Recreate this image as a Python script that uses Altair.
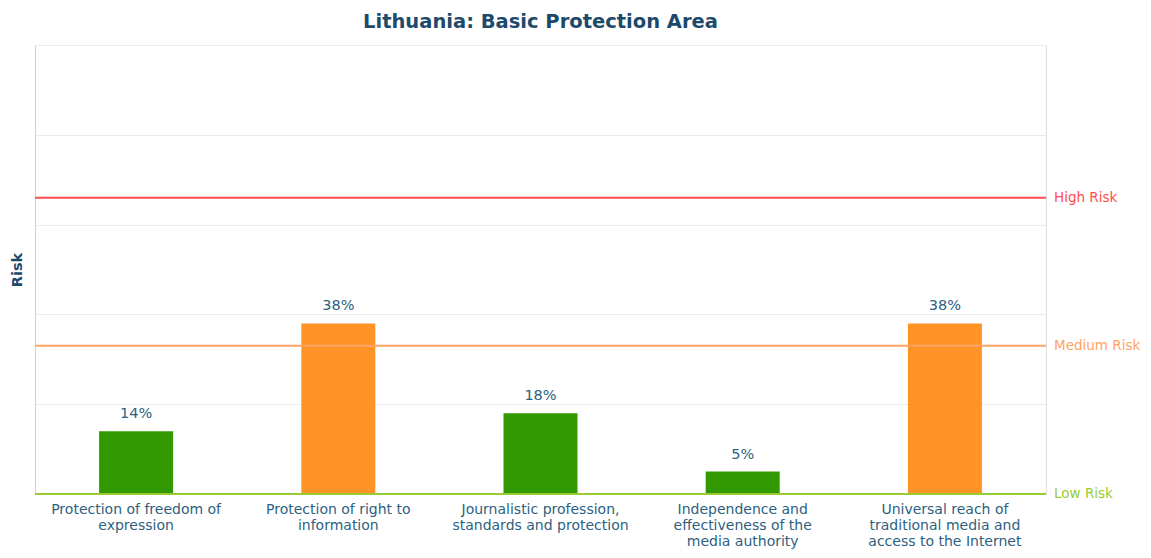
import altair as alt
import pandas as pd

categories = [
    "Protection of freedom of|expression",
    "Protection of right to|information",
    "Journalistic profession,|standards and protection",
    "Independence and|effectiveness of the|media authority",
    "Universal reach of|traditional media and|access to the Internet",
]
values = [14, 38, 18, 5, 38]
bar_colors = ["#339900", "#ff9326", "#339900", "#339900", "#ff9326"]

risk_names = ["High Risk", "Medium Risk", "Low Risk"]
risk_levels = [66, 33, 0]
risk_colors = ["#ff4d4d", "#ffa366", "#99cc33"]

bars_df = pd.DataFrame({
    "cat": categories,
    "value": values,
    "color": bar_colors,
    "label": [f"{v}%" for v in values],
})
risk_df = pd.DataFrame({"name": risk_names, "level": risk_levels, "color": risk_colors})

W, H = 1011, 449
label_color = "#2e5f80"
FS = 14.5

x_enc = alt.X(
    "cat:N", sort=None, title=None,
    scale=alt.Scale(paddingInner=0.63, paddingOuter=0.315),
    axis=alt.Axis(labelExpr="split(datum.label, '|')", labelAngle=0, labelFontSize=14,
                  labelColor=label_color, labelFont="DejaVu Sans", labelPadding=8,
                  labelLineHeight=16, ticks=False, domain=False, labelLimit=300),
)
y_enc = alt.Y(
    "value:Q", title="Risk",
    scale=alt.Scale(domain=[0, 100], nice=False),
    axis=alt.Axis(values=[0, 20, 40, 60, 80, 100], labels=False, ticks=False,
                  domainColor="#c5d5e2", gridColor="#ebebeb", titleFontSize=14.5,
                  titleFont="DejaVu Sans", titleFontWeight="bold", titleColor="#1d4a6b",
                  titlePadding=11),
)

bars = alt.Chart(bars_df).mark_bar(size=74).encode(
    x=x_enc, y=y_enc, color=alt.Color("color:N", scale=None)
)
bar_text = alt.Chart(bars_df).mark_text(
    baseline="bottom", dy=-10, fontSize=FS, font="DejaVu Sans", color=label_color
).encode(x=alt.X("cat:N", sort=None), y="value:Q", text="label:N")

rules = alt.Chart(risk_df).mark_rule(strokeWidth=2).encode(
    y=alt.Y("level:Q"), color=alt.Color("color:N", scale=None)
)
risk_text = alt.Chart(risk_df).mark_text(
    align="left", baseline="middle", fontSize=13.5, font="DejaVu Sans"
).encode(
    x=alt.value(W + 8), y=alt.Y("level:Q"), text="name:N", color=alt.Color("color:N", scale=None)
)

chart = alt.layer(bars, bar_text, rules, risk_text).properties(
    width=W, height=H,
    title=alt.Title("Lithuania: Basic Protection Area", fontSize=19.5, font="DejaVu Sans",
                    fontWeight="bold", color="#1d4a6b", offset=13),
    autosize=alt.AutoSizeParams(type="none"),
    padding={"left": 27, "top": 37, "right": 97, "bottom": 56},
).configure_view(stroke="#c5d5e2", strokeWidth=1).configure(background="white")

chart.save("out.html", embed_options={"renderer": "svg", "actions": False})
